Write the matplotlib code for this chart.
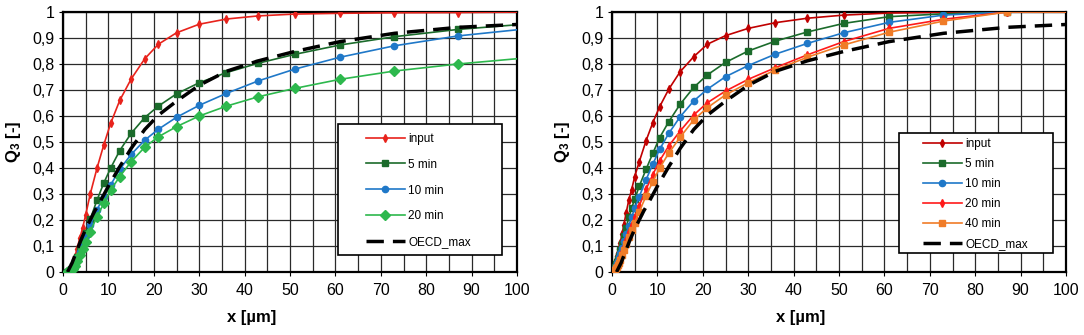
import matplotlib
matplotlib.use("Agg")
import matplotlib.pyplot as plt
from matplotlib.ticker import MultipleLocator, FuncFormatter
from matplotlib.patches import Rectangle

plt.rcParams['font.family'] = ['Liberation Sans', 'DejaVu Sans']
plt.rcParams['mathtext.fontset'] = 'custom'
plt.rcParams['mathtext.rm'] = 'Liberation Sans'
plt.rcParams['mathtext.bf'] = 'Liberation Sans:bold'

# ---------------- data ----------------
x_left = [0.9, 1.1, 1.3, 1.5, 1.8, 2.2, 2.6, 3.1, 3.7, 4.3, 5.0, 6.0, 7.5, 9.0, 10.5,
          12.5, 15, 18, 21, 25, 30, 36, 43, 51, 61, 73, 87, 103]
left_input = [0.0, 0.002, 0.005, 0.009, 0.016, 0.032, 0.058, 0.09, 0.13, 0.168, 0.22, 0.30,
              0.40, 0.49, 0.572, 0.66, 0.742, 0.82, 0.876, 0.92, 0.953, 0.973, 0.985,
              0.992, 0.995, 0.997, 0.998, 1.0]
left_5min = [0.0, 0.001, 0.003, 0.006, 0.012, 0.022, 0.038, 0.058, 0.085, 0.115, 0.15, 0.203,
             0.277, 0.343, 0.40, 0.467, 0.533, 0.594, 0.638, 0.685, 0.728, 0.767, 0.803,
             0.837, 0.873, 0.905, 0.933, 0.955]
left_10min = [0.0, 0.001, 0.002, 0.005, 0.01, 0.019, 0.033, 0.052, 0.078, 0.105, 0.14, 0.18,
              0.24, 0.29, 0.335, 0.395, 0.452, 0.507, 0.549, 0.595, 0.641, 0.687, 0.735,
              0.78, 0.826, 0.87, 0.908, 0.937]
left_20min = [0.0, 0.0, 0.001, 0.002, 0.006, 0.013, 0.025, 0.042, 0.065, 0.09, 0.117, 0.155,
              0.213, 0.264, 0.315, 0.367, 0.424, 0.48, 0.52, 0.559, 0.60, 0.638, 0.674,
              0.706, 0.741, 0.773, 0.80, 0.825]

x_right = [0.3, 0.5, 0.7, 0.9, 1.1, 1.3, 1.5, 1.8, 2.2, 2.6, 3.1, 3.7, 4.3, 5.0, 6.0, 7.5,
           9.0, 10.5, 12.5, 15, 18, 21, 25, 30, 36, 43, 51, 61, 73, 87, 103]
right_input = [0.0, 0.015, 0.03, 0.045, 0.06, 0.072, 0.088, 0.112, 0.145, 0.18, 0.226, 0.277,
               0.315, 0.367, 0.424, 0.505, 0.575, 0.636, 0.703, 0.77, 0.828, 0.876, 0.909,
               0.937, 0.959, 0.976, 0.988, 0.996, 0.999, 1.0, 1.0]
right_5min = [0.0, 0.01, 0.02, 0.03, 0.04, 0.05, 0.063, 0.083, 0.108, 0.138, 0.17, 0.21, 0.245,
              0.28, 0.33, 0.395, 0.457, 0.517, 0.578, 0.645, 0.71, 0.758, 0.806, 0.85, 0.888,
              0.923, 0.956, 0.982, 0.993, 1.0, 1.0]
right_10min = [0.0, 0.008, 0.015, 0.025, 0.034, 0.044, 0.056, 0.073, 0.094, 0.118, 0.145,
               0.178, 0.21, 0.245, 0.29, 0.355, 0.415, 0.472, 0.533, 0.597, 0.658, 0.703,
               0.751, 0.794, 0.838, 0.879, 0.92, 0.96, 0.988, 1.0, 1.0]
right_20min = [0.0, 0.006, 0.012, 0.019, 0.026, 0.034, 0.044, 0.058, 0.077, 0.097, 0.122,
               0.152, 0.18, 0.212, 0.255, 0.318, 0.375, 0.428, 0.485, 0.542, 0.604, 0.651,
               0.696, 0.741, 0.786, 0.835, 0.886, 0.937, 0.972, 1.0, 1.0]
right_40min = [0.0, 0.004, 0.008, 0.014, 0.02, 0.027, 0.036, 0.048, 0.065, 0.083, 0.106,
               0.133, 0.16, 0.19, 0.232, 0.292, 0.348, 0.40, 0.457, 0.518, 0.585, 0.632,
               0.681, 0.728, 0.777, 0.826, 0.873, 0.922, 0.965, 1.0, 1.0]

x_oecd = [1.0, 2, 3, 4, 5, 6, 7, 8, 10, 12.5, 15, 18, 21, 25, 30, 36, 43, 51, 61, 73, 87, 100]
y_oecd = [0.0, 0.035, 0.08, 0.125, 0.165, 0.2, 0.235, 0.265, 0.33, 0.405, 0.475, 0.548,
          0.603, 0.657, 0.718, 0.772, 0.812, 0.848, 0.886, 0.918, 0.941, 0.952]

x_ticks = [0, 10, 20, 30, 40, 50, 60, 70, 80, 90, 100]
y_ticks = [0, 0.1, 0.2, 0.3, 0.4, 0.5, 0.6, 0.7, 0.8, 0.9, 1.0]

# ---------------- styles ----------------
C_RED = '#E8231C'
C_DRED = '#C00000'
C_DGREEN = '#1B6B2B'
C_BLUE = '#1F78C8'
C_LGREEN = '#2DB84D'
C_BRED = '#FF1A1A'
C_ORANGE = '#F07C28'


def yfmt(v, pos):
    if abs(v) < 1e-9:
        return '0'
    if abs(v - 1) < 1e-9:
        return '1'
    return ('%.1f' % v).replace('.', ',')


fig = plt.figure(figsize=(10.84, 3.35), dpi=100)
ax1 = fig.add_axes([63 / 1084, 63 / 335, 454 / 1084, 260 / 335])
ax2 = fig.add_axes([612 / 1084, 63 / 335, 454 / 1084, 260 / 335])

for ax in (ax1, ax2):
    ax.set_xlim(0, 100)
    ax.set_ylim(0, 1)
    ax.set_xticks(x_ticks)
    ax.set_yticks(y_ticks)
    ax.xaxis.set_minor_locator(MultipleLocator(5))
    ax.yaxis.set_major_formatter(FuncFormatter(yfmt))
    ax.grid(True, which='both', color='#2a2a2a', linewidth=0.9)
    ax.tick_params(which='major', direction='out', length=3, width=0.8, labelsize=11.5)
    ax.tick_params(axis='x', pad=5)
    ax.tick_params(axis='y', pad=3)
    ax.tick_params(which='minor', length=0)
    for s in ax.spines.values():
        s.set_linewidth(1.6)
        s.set_color('black')
    ax.set_xlabel('x [µm]', fontsize=12, fontweight='bold')
    ax.xaxis.set_label_coords(0.416, -0.145)
    ax.set_ylabel(r'$\mathbf{Q_3}$ [-]', fontsize=12, fontweight='bold')
    ax.yaxis.set_label_coords(-0.088, 0.5)

lw = 1.2
# left panel
ax1.plot(x_left, left_input, color=C_RED, lw=lw, marker='d', ms=4, label='input', zorder=3)
ax1.plot(x_left, left_5min, color=C_DGREEN, lw=lw, marker='s', ms=4.5, label='5 min', zorder=3)
ax1.plot(x_left, left_10min, color=C_BLUE, lw=lw, marker='o', ms=4.5, label='10 min', zorder=3)
ax1.plot(x_left, left_20min, color=C_LGREEN, lw=lw, marker='D', ms=5, label='20 min', zorder=3)
ax1.plot(x_oecd, y_oecd, color='black', lw=2.5, dashes=(5, 2.6), label='OECD_max', zorder=3.5)

# right panel
ax2.plot(x_right, right_input, color=C_DRED, lw=lw, marker='d', ms=4, label='input', zorder=3)
ax2.plot(x_right, right_5min, color=C_DGREEN, lw=lw, marker='s', ms=4.5, label='5 min', zorder=3)
ax2.plot(x_right, right_10min, color=C_BLUE, lw=lw, marker='o', ms=4.5, label='10 min', zorder=3)
ax2.plot(x_right, right_20min, color=C_BRED, lw=lw, marker='d', ms=4, label='20 min', zorder=3)
ax2.plot(x_right, right_40min, color=C_ORANGE, lw=lw, marker='s', ms=4.5, label='40 min', zorder=3)
ax2.plot(x_oecd, y_oecd, color='black', lw=2.5, dashes=(5, 2.6), label='OECD_max', zorder=3.5)

# legend boxes
ax1.add_patch(Rectangle((0.6057, 0.0654), 0.3612, 0.5038, transform=ax1.transAxes,
                        facecolor='white', edgecolor='black', lw=1.2, zorder=4.5))
ax2.add_patch(Rectangle((0.632, 0.0731), 0.339, 0.4615, transform=ax2.transAxes,
                        facecolor='white', edgecolor='black', lw=1.2, zorder=4.5))

leg1 = ax1.legend(loc='upper left', bbox_to_anchor=(0.667, 0.536), frameon=False,
                  borderpad=0, borderaxespad=0, fontsize=8.5, handlelength=3.3,
                  handletextpad=0.3, labelspacing=1.18)
leg1.set_zorder(6)
leg2 = ax2.legend(loc='upper left', bbox_to_anchor=(0.685, 0.515), frameon=False,
                  borderpad=0, borderaxespad=0, fontsize=8.5, handlelength=3.3,
                  handletextpad=0.3, labelspacing=0.67)
leg2.set_zorder(6)

fig.savefig('out.png', dpi=100)
